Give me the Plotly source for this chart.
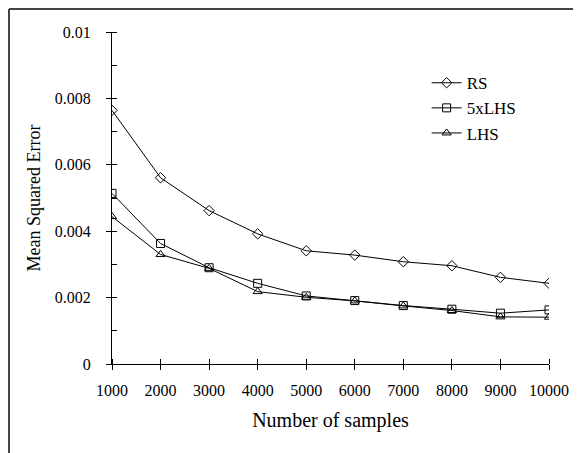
import plotly.graph_objects as go

samples = [1000, 2000, 3000, 4000, 5000, 6000, 7000, 8000, 9000, 10000]
x_labels = ["1000", "2000", "3000", "4000", "5000", "6000", "7000", "8000", "9000", "10000"]
rs = [0.00764, 0.00561, 0.00462, 0.00392, 0.00341, 0.00328, 0.00308, 0.00296, 0.00261, 0.00243]
lhs5 = [0.00514, 0.00363, 0.00290, 0.00243, 0.00205, 0.00191, 0.00176, 0.00165, 0.00153, 0.00163]
lhs = [0.00444, 0.00330, 0.00288, 0.00218, 0.00201, 0.00190, 0.00175, 0.00161, 0.00142, 0.00141]

y_ticks = [0, 0.002, 0.004, 0.006, 0.008, 0.01]
y_labels = ["0", "0.002", "0.004", "0.006", "0.008", "0.01"]

serif = "Liberation Serif"

fig = go.Figure()
for name, vals, sym in [("RS", rs, "diamond-open"),
                        ("5xLHS", lhs5, "square-open"),
                        ("LHS", lhs, "triangle-up-open")]:
    fig.add_trace(go.Scatter(
        x=samples, y=vals, name=name, mode="lines+markers",
        line=dict(color="black", width=1),
        marker=dict(symbol=sym, size=8, color="black", line=dict(width=1)),
    ))

# the page body has an 8px default margin, so the figure is 8px smaller
fig.update_layout(
    width=573, height=445,
    margin=dict(l=104, r=32, t=24, b=89),
    paper_bgcolor="white", plot_bgcolor="white",
    font=dict(family=serif, size=16, color="black"),
    showlegend=True,
    legend=dict(x=0.72, y=0.90, xanchor="left", yanchor="top",
                bgcolor="rgba(0,0,0,0)", font=dict(family=serif, size=17),
                tracegroupgap=0, itemwidth=30),
    xaxis=dict(
        range=[1000, 10000], tickvals=samples, ticktext=x_labels,
        tickfont=dict(family=serif, size=16),
        showline=True, linecolor="black", linewidth=1,
        ticks="outside", ticklen=5, tickcolor="black",
        showgrid=False, zeroline=False, ticklabelstandoff=7,
        title=dict(text="Number of samples", font=dict(family=serif, size=20), standoff=14),
        minor=dict(ticks="inside", ticklen=5, tickcolor="black", dtick=1000, tick0=1000),
    ),
    yaxis=dict(
        range=[0, 0.01], tickvals=y_ticks, ticktext=y_labels,
        tickfont=dict(family=serif, size=16),
        showline=True, linecolor="black", linewidth=1,
        ticks="outside", ticklen=5, tickcolor="black",
        showgrid=False, zeroline=False, ticklabelstandoff=12,
        title=dict(text="Mean Squared Error", font=dict(family=serif, size=18), standoff=9),
        minor=dict(ticks="inside", ticklen=5, tickcolor="black", dtick=0.001, tick0=0),
    ),
)

# frame edges of the original page (as close to the corner as the page allows)
fig.add_shape(type="line", xref="paper", yref="paper", x0=-0.2357, x1=-0.2357, y0=-0.3, y1=1.0693,
              line=dict(color="#444", width=2))
fig.add_shape(type="line", xref="paper", yref="paper", x0=-0.2357, x1=1.1, y0=1.0693, y1=1.0693,
              line=dict(color="#444", width=2))

fig.write_html("out.html")
